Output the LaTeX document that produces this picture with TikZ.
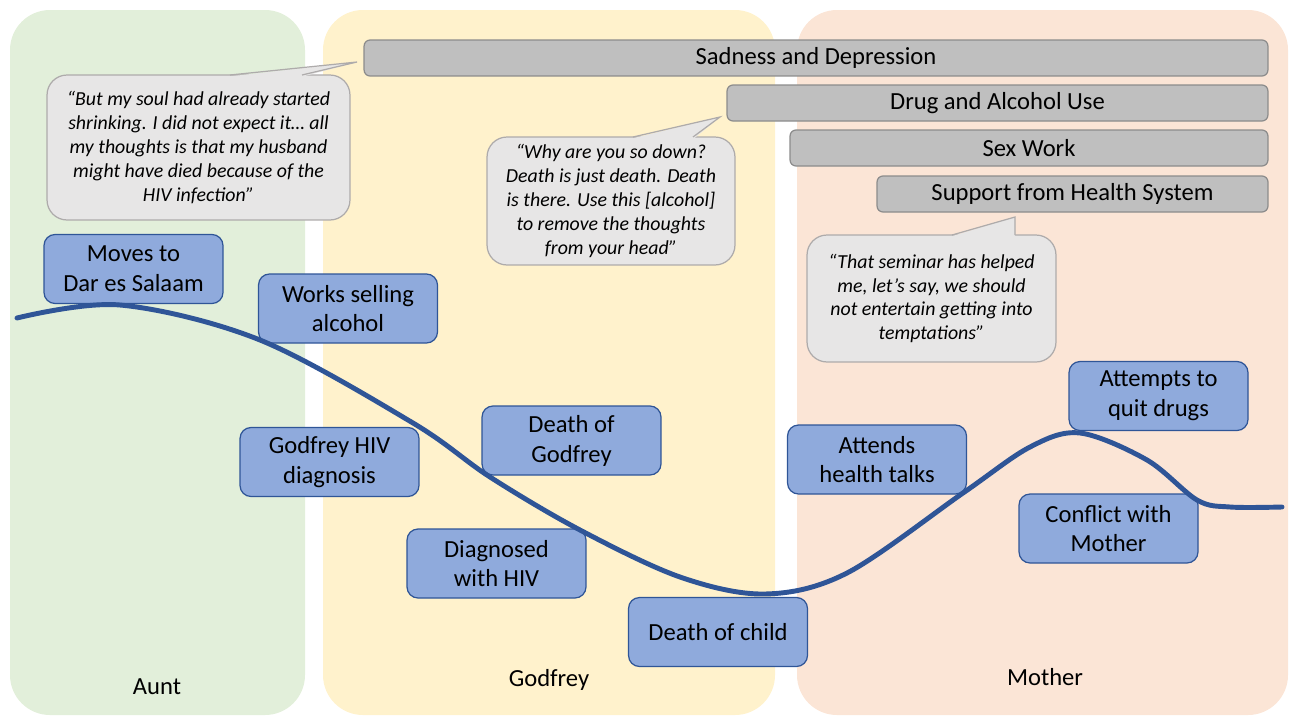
\documentclass[tikz,border=0pt]{standalone}
\usepackage{fontspec}
\setmainfont{Carlito}
\definecolor{auntbg}{HTML}{E2EFDA}
\definecolor{godfreybg}{HTML}{FFF2CC}
\definecolor{motherbg}{HTML}{FBE5D6}
\definecolor{eventfill}{HTML}{8FAADC}
\definecolor{eventline}{HTML}{2F5597}
\definecolor{themefill}{HTML}{BFBFBF}
\definecolor{themeline}{HTML}{8C8C8C}
\definecolor{quotefill}{HTML}{E7E6E6}
\definecolor{quoteline}{HTML}{AEABAB}
\tikzset{
  eventbox/.style={shape=rectangle, rounded corners=0.22cm, draw=eventline, fill=eventfill, line width=0.7pt,
    minimum width=3.58cm, minimum height=1.38cm, align=center, inner sep=1pt, font=\fontsize{14}{17}\selectfont},
  themebar/.style={shape=rectangle, rounded corners=0.12cm, draw=themeline, fill=themefill, line width=0.7pt,
    minimum height=0.72cm, inner sep=1pt, font=\fontsize{14}{17}\selectfont},
  quotebox/.style={shape=rectangle, rounded corners=0.4cm, draw=quoteline, fill=quotefill, line width=0.7pt,
    align=center, inner sep=1pt, font=\fontsize{11.3}{13.6}\selectfont\itshape},
  phaselabel/.style={font=\fontsize{14}{17}\selectfont},
  lifeline/.style={draw=eventline, line width=2.8pt, line cap=round}
}
\begin{document}
\begin{tikzpicture}[x=0.02cm, y=-0.02cm]
    \useasboundingbox (0,0) rectangle (1290,717);

    % phases
    \fill[auntbg, rounded corners=0.8cm] (10,10) rectangle (305,715);
    \fill[godfreybg, rounded corners=0.8cm] (323,10) rectangle (775,715);
    \fill[motherbg, rounded corners=0.8cm] (797,10) rectangle (1288,715);
    \node[phaselabel] (aunt) at (157,687) {Aunt};
    \node[phaselabel] (godfrey) at (549,680) {Godfrey};
    \node[phaselabel] (mother) at (1045,677) {Mother};

    % themes
    \node[themebar, minimum width=18.08cm] (sad) at (816,58) {Sadness and Depression};
    \node[themebar, minimum width=10.82cm] (drug) at (997.5,103) {Drug and Alcohol Use};
    \node[themebar, minimum width=9.56cm] (sex) at (1029,148) {Sex Work};
    \node[themebar, minimum width=7.82cm] (support) at (1072.5,194) {Support from Health System};

    % quotes
    \node[quotebox, minimum width=6.06cm, minimum height=2.9cm] (soul) at (198.5,147.5)
        {“But my soul had already started\\shrinking. I did not expect it… all\\my thoughts is that my husband\\might have died because of the\\HIV infection”};
    \fill[quotefill] (229,76.5) -- (357,62) -- (303,76.5) -- cycle;
    \draw[quoteline, line width=0.7pt] (230,75) -- (357,62) -- (302,75);

    \node[quotebox, minimum width=4.96cm, minimum height=2.56cm] (down) at (611,201)
        {“Why are you so down?\\Death is just death. Death\\is there. Use this [alcohol]\\to remove the thoughts\\from your head”};
    \fill[quotefill] (632,138.5) -- (720,117) -- (694,138.5) -- cycle;
    \draw[quoteline, line width=0.7pt] (633,137) -- (720,117) -- (693,137);

    \node[quotebox, minimum width=4.98cm, minimum height=2.54cm] (seminar) at (931.5,298.5)
        {“That seminar has helped\\me, let’s say, we should\\not entertain getting into\\temptations”};
    \fill[quotefill] (951,236.5) -- (1015,217) -- (1015,236.5) -- cycle;
    \draw[quoteline, line width=0.7pt] (952,235) -- (1015,217) -- (1015,235);

    % events
    \node[eventbox] (moves) at (133.5,269) {Moves to\\Dar es Salaam};
    \node[eventbox] (works) at (348,308.5) {Works selling\\alcohol};
    \node[eventbox] (gdiag) at (329.5,462) {Godfrey HIV\\diagnosis};
    \node[eventbox] (gdeath) at (571.5,440.5) {Death of\\Godfrey};
    \node[eventbox] (hiv) at (496.5,563.5) {Diagnosed\\with HIV};
    \node[eventbox] (child) at (718,632) {Death of child};
    \node[eventbox] (talks) at (877,459.5) {Attends\\health talks};
    \node[eventbox] (quit) at (1158.5,396) {Attempts to\\quit drugs};
    \node[eventbox] (conflict) at (1108.5,528.5) {Conflict with\\Mother};

    % life course
    \draw[lifeline] plot[smooth, tension=0.55] coordinates {(17,318) (120,305) (260,340) (413,423) (490,477)
        (580,530) (680,577) (765,594) (847,573) (963,493) (1030,447) (1080,433) (1147,460) (1197,500)
        (1230,507) (1282,507)};
\end{tikzpicture}
\end{document}
